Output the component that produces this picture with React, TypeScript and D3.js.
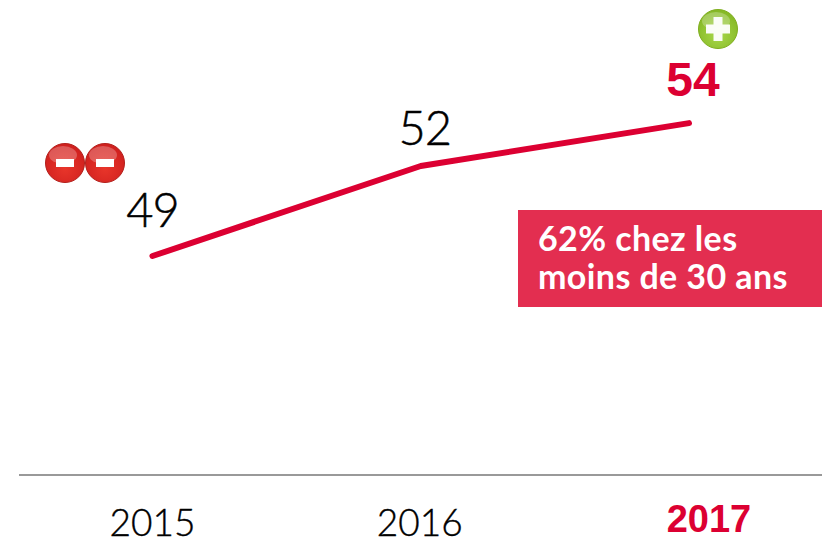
import React from 'react';
import * as d3 from 'd3';

const years = ['2015', '2016', '2017'];
// the line sits a little lower than the rounded label in 2017
const plotted = [49, 52, 53.43];
const labels = ['49', '52', '54'];
const noteLines = ['62% chez les', 'moins de 30 ans'];
const minusBadges = [0, 1];

const RED = '#dc0032';
const FONT = 'Lato, "Open Sans", sans-serif';
const BOLD_FONT = '"Liberation Sans", Arial, sans-serif';

const x = d3.scalePoint<string>().domain(years).range([152.5, 689]);
const y = d3.scaleLinear().domain([49, 52]).range([256, 166]);
const line = d3.line<number>()
  .x((_, i) => x(years[i]) as number)
  .y(d => y(d));

// offsets of each label relative to its point
const labelDx = [0, 4, 4];
const labelBase = [227, 145, 96];
const yearDx = [0, -1, 20];
const yearBase = [536, 536, 532];

const Badge = ({ cx, cy, fill, plus }: { cx: number; cy: number; fill: string; plus?: boolean }) => (
  <g transform={`translate(${cx},${cy})`}>
    <circle r={19.5} fill={`url(#${fill})`} stroke={plus ? '#7fae1e' : '#b3201c'} strokeWidth={1} />
    <ellipse cx={-2} cy={-8} rx={14} ry={9} fill="#fff" opacity={0.25} />
    {plus ? (
      <path d="M-4.5,-12H4.5V-4.5H12V4.5H4.5V12H-4.5V4.5H-12V-4.5H-4.5Z" fill="#fff" opacity={0.95} />
    ) : (
      <rect x={-9} y={-4} width={18} height={8} fill="#fff" />
    )}
  </g>
);

export default function App() {
  return (
    <svg width={827} height={540} style={{ position: 'absolute', left: 0, top: 0 }}>
      <defs>
        <radialGradient id="redBall" cx="50%" cy="65%" r="60%">
          <stop offset="0%" stopColor="#e8352a" />
          <stop offset="100%" stopColor="#d0201e" />
        </radialGradient>
        <radialGradient id="greenBall" cx="50%" cy="65%" r="60%">
          <stop offset="0%" stopColor="#a8d84a" />
          <stop offset="100%" stopColor="#86b926" />
        </radialGradient>
      </defs>

      <line x1={19} x2={822} y1={475} y2={475} stroke="#999" strokeWidth={2} />

      <path d={line(plotted) ?? ''} fill="none" stroke={RED} strokeWidth={6} strokeLinecap="round" strokeLinejoin="round" />

      {labels.map((d, i) => (
        <text
          key={d}
          x={(x(years[i]) as number) + labelDx[i]}
          y={labelBase[i]}
          textAnchor="middle"
          fontFamily={i === 2 ? BOLD_FONT : FONT}
          fontWeight={i === 2 ? 700 : 300}
          fontSize={i === 2 ? 48 : 47}
          letterSpacing={i === 2 ? 0 : -1}
          fill={i === 2 ? RED : '#000'}
          stroke={i === 2 ? 'none' : '#000'}
          strokeWidth={0.5}
        >
          {d}
        </text>
      ))}

      {years.map((d, i) => (
        <text
          key={d}
          x={(x(d) as number) + yearDx[i]}
          y={yearBase[i]}
          textAnchor="middle"
          fontFamily={i === 2 ? BOLD_FONT : FONT}
          fontWeight={i === 2 ? 700 : 300}
          fontSize={i === 2 ? 38 : 37}
          fill={i === 2 ? RED : '#000'}
          stroke={i === 2 ? 'none' : '#000'}
          strokeWidth={0.4}
        >
          {d}
        </text>
      ))}

      {minusBadges.map(i => (
        <Badge key={i} cx={65 + i * 40} cy={163} fill="redBall" />
      ))}
      <Badge cx={718} cy={29} fill="greenBall" plus />

      <rect x={518} y={210} width={304} height={97} fill="#e32e50" />
      {noteLines.map((d, i) => (
        <text key={d} x={538} y={251 + i * 38} fontFamily={FONT} fontWeight={700} fontSize={34} letterSpacing={0.4} fill="#fff">
          {d}
        </text>
      ))}
    </svg>
  );
}
